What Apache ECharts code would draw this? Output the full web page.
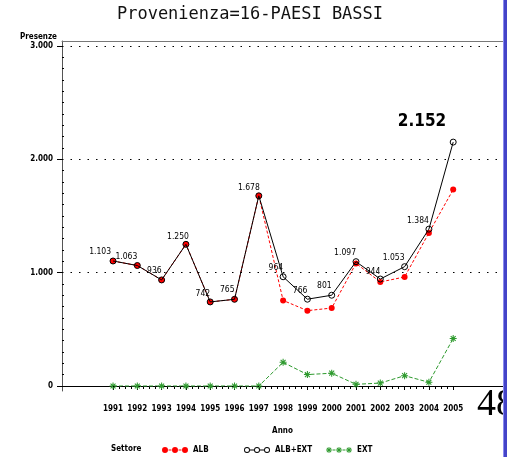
<!DOCTYPE html>
<html>
<head>
<meta charset="utf-8">
<script src="https://cdn.jsdelivr.net/npm/echarts@6/dist/echarts.min.js"></script>
<style>
html,body{margin:0;padding:0;background:#fff;}
#c{width:507px;height:457px;}
</style>
</head>
<body>
<div id="c"></div>
<script>
// ---- data ----
const years = [1991,1992,1993,1994,1995,1996,1997,1998,1999,2000,2001,2002,2003,2004,2005];
const albExt = [1103,1063,936,1250,742,765,1678,964,766,801,1097,944,1053,1384,2152];
const alb    = [1103,1063,936,1250,742,765,1678,755,665,688,1082,918,962,1351,1733];
const ext    = [0,0,0,0,0,0,0,209,101,113,15,26,91,33,419];
const yTicks = [0,1000,2000,3000];
const yTickLabels = ['0','1.000','2.000','3.000'];
const seriesNames = ['ALB','ALB+EXT','EXT'];

// ---- styling helpers ----
const SAS = '"DejaVu Sans Condensed",sans-serif';
const LBL = '"DejaVu Sans Condensed",sans-serif';
const labelOffsets = [[-2,-9],[0,-9],[0,-9],[3,-8],[0,-8],[0,-10],[1,-8],[0,-9],[0,-8],[0,-9],[0,-9],[0,-7],[0,-9],[0,-8],[-7,-21]];

function fmt(v){
  if (v >= 1000) return Math.floor(v/1000) + '.' + String(v % 1000).padStart(3,'0');
  return String(v);
}
const minorX = [];
for (let y = years[0]; y < years[years.length-1]; y++) {
  minorX.push(y + 0.25, y + 0.5, y + 0.75);
}
const minorY = [];
for (let v = 100; v < 3000; v += 100) { if (v % 1000) minorY.push(v); }

// legend icon paths (26x6 box)
function circ(cx, r, sweep){
  return 'M' + (cx - r) + ',3 a' + r + ',' + r + ' 0 1,' + sweep + ' ' + (2*r) + ',0 a' + r + ',' + r + ' 0 1,' + sweep + ' ' + (-2*r) + ',0 Z ';
}
function bar(x1, x2){ return 'M' + x1 + ',2.5 L' + x2 + ',2.5 L' + x2 + ',3.5 L' + x1 + ',3.5 Z '; }
function star(cx){
  const h = 3, t = 0.45, d = 0.7071;
  let p = '';
  const arms = [[0,1],[1,0],[d,d],[d,-d]];
  arms.forEach(([ux,uy])=>{
    const nx = -uy, ny = ux;
    const pts = [[ -h*ux - t*nx, -h*uy - t*ny],[ h*ux - t*nx, h*uy - t*ny],[ h*ux + t*nx, h*uy + t*ny],[ -h*ux + t*nx, -h*uy + t*ny]];
    p += 'M' + pts.map(q => (cx+q[0]).toFixed(2) + ',' + (3+q[1]).toFixed(2)).join(' L') + ' Z ';
  });
  return p;
}
const iconALB = 'path://' + circ(3,3,1) + circ(13,3,1) + circ(23,3,1) + bar(6.5,9.5) + bar(16.5,19.5);
const iconTOT = 'path://' + circ(3,3,1) + circ(3,2.1,0) + circ(13,3,1) + circ(13,2.1,0) + circ(23,3,1) + circ(23,2.1,0) + bar(6,10) + bar(16,20);
const iconEXT = 'path://' + star(3) + star(13) + star(23) + bar(6.5,9.5) + bar(16.5,19.5);
const starSymbol = 'path://' + star(3);

const XMIN = 1988.9, XMAX = 2007.05, YMIN = -44, YMAX = 3044;

const chart = echarts.init(document.getElementById('c'), null, {renderer:'canvas'});

const totData = years.map((y,i)=>{
  const last = i === years.length - 1;
  return {
    value: [y, albExt[i]],
    label: {
      offset: labelOffsets[i],
      fontSize: last ? 17 : 8.5,
      fontWeight: last ? 'bold' : 'normal'
    }
  };
});

const tickFont = {fontFamily: SAS, fontSize: 8, fontWeight: 'bold', color: '#000'};

const option = {
  animation: false,
  backgroundColor: '#fff',
  title: [
    {
      text: 'Provenienza=16-PAESI BASSI',
      left: 250, top: 6, textAlign: 'center', padding: 0,
      textStyle: {fontFamily: '"DejaVu Sans Mono",monospace', fontSize: 17, fontWeight: 'normal', color: '#111'}
    },
    {
      text: 'Settore',
      left: 111, top: 445, padding: 0,
      textStyle: tickFont
    }
  ],
  grid: {left: 62, right: 4, top: 41, bottom: 66, containLabel: false, outerBoundsMode: 'none'},
  xAxis: [
    {
      type: 'value', min: XMIN, max: XMAX, position: 'bottom',
      axisLine: {show: true, lineStyle: {color: '#000', width: 1}},
      axisTick: {show: true, customValues: years, length: 4, lineStyle: {color: '#000'}},
      axisLabel: Object.assign({show: true, customValues: years, margin: 14, showMinLabel: true, showMaxLabel: true, hideOverlap: false, formatter: v => String(v)}, tickFont),
      splitLine: {show: false},
      name: 'Anno', nameLocation: 'middle', nameGap: 36,
      nameTextStyle: tickFont
    },
    {
      type: 'value', min: XMIN, max: XMAX, position: 'bottom',
      axisLine: {show: false},
      axisTick: {show: true, customValues: minorX, length: 3, lineStyle: {color: '#000'}},
      axisLabel: {show: false},
      splitLine: {show: false}
    },
    {
      type: 'value', min: XMIN, max: XMAX, position: 'top',
      axisLine: {show: true, lineStyle: {color: '#777', width: 1}},
      axisTick: {show: false}, axisLabel: {show: false}, splitLine: {show: false}
    }
  ],
  yAxis: [
    {
      type: 'value', min: YMIN, max: YMAX, position: 'left',
      axisLine: {show: true, lineStyle: {color: '#555', width: 1}},
      axisTick: {show: true, customValues: yTicks, length: 5, lineStyle: {color: '#000'}},
      axisLabel: Object.assign({show: true, customValues: yTicks, margin: 9, showMinLabel: true, showMaxLabel: true,
        formatter: v => yTickLabels[yTicks.indexOf(v)] ?? fmt(v)}, tickFont),
      splitLine: {show: false},
      name: 'Presenze', nameLocation: 'end', nameGap: 0,
      nameTextStyle: Object.assign({align: 'right', verticalAlign: 'bottom', padding: [0,5,0,0]}, tickFont)
    },
    {
      type: 'value', min: YMIN, max: YMAX, position: 'left',
      axisLine: {show: false},
      axisTick: {show: true, inside: true, customValues: minorY, length: 2, lineStyle: {color: '#000'}},
      axisLabel: {show: false}, splitLine: {show: false}
    }
  ],
  legend: [
    {data: [{name: 'ALB', icon: iconALB}], left: 162, top: 446, padding: 0, itemWidth: 26, itemHeight: 6, itemGap: 0,
      itemStyle: {color: '#ff0000', borderWidth: 0}, textStyle: tickFont, selectedMode: false},
    {data: [{name: 'ALB+EXT', icon: iconTOT}], left: 244, top: 446, padding: 0, itemWidth: 26, itemHeight: 6, itemGap: 0,
      itemStyle: {color: '#000', borderWidth: 0}, textStyle: tickFont, selectedMode: false},
    {data: [{name: 'EXT', icon: iconEXT}], left: 326, top: 446, padding: 0, itemWidth: 26, itemHeight: 6, itemGap: 0,
      itemStyle: {color: '#2e9a2e', borderWidth: 0}, textStyle: tickFont, selectedMode: false}
  ],
  series: [
    {
      name: seriesNames[0], type: 'line', xAxisIndex: 0, yAxisIndex: 0,
      data: years.map((y,i)=>[y, alb[i]]),
      symbol: 'circle', symbolSize: 6,
      itemStyle: {color: '#ff0000', borderWidth: 0},
      lineStyle: {color: '#ff0000', width: 1, type: [3,2]},
      z: 3
    },
    {
      name: seriesNames[2], type: 'line', xAxisIndex: 0, yAxisIndex: 0,
      data: years.map((y,i)=>[y, ext[i]]),
      symbol: starSymbol, symbolSize: 7,
      itemStyle: {color: '#2e9a2e', borderWidth: 0},
      lineStyle: {color: '#2e9a2e', width: 1, type: [4,2]},
      z: 3
    },
    {
      name: seriesNames[1], type: 'line', xAxisIndex: 0, yAxisIndex: 0,
      data: totData,
      symbol: 'circle', symbolSize: 6,
      itemStyle: {color: 'rgba(0,0,0,0)', borderColor: '#000', borderWidth: 1},
      lineStyle: {color: '#000', width: 1},
      label: {
        show: true, position: ['50%','50%'], align: 'right', verticalAlign: 'middle',
        fontFamily: LBL, color: '#000',
        formatter: p => fmt(p.value[1])
      },
      markLine: {
        silent: true, symbol: ['none','none'], label: {show: false},
        lineStyle: {color: '#000', width: 1, type: [1.5,7]},
        emphasis: {disabled: true},
        data: yTicks.map(v => ({yAxis: v}))
      },
      z: 4
    }
  ],
  graphic: [
    {type: 'text', x: 477, y: 405, style: {text: '48', font: '38px "Liberation Serif", serif', fill: '#000', verticalAlign: 'middle'}, z: 10},
    {type: 'rect', shape: {x: 503, y: 0, width: 1, height: 457}, style: {fill: '#8a8af0'}, z: 11},
    {type: 'rect', shape: {x: 504, y: 0, width: 3, height: 457}, style: {fill: '#4444c8'}, z: 11}
  ]
};
chart.setOption(option);
</script>
</body>
</html>
